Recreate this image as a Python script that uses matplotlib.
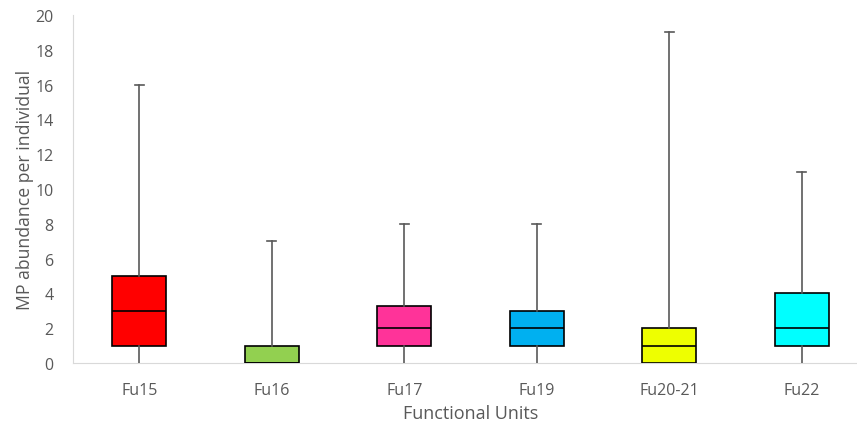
import matplotlib
matplotlib.use('Agg')
import matplotlib.pyplot as plt

# five-number summaries
units = ['Fu15', 'Fu16', 'Fu17', 'Fu19', 'Fu20-21', 'Fu22']
mins = [0, 0, 0, 0, 0, 0]
q1s = [1, 0, 1, 1, 0, 1]
medians = [3, 0, 2, 2, 1, 2]
q3s = [5, 1, 3.25, 3, 2, 4]
maxs = [16, 7, 8, 8, 19, 11]
colors = ['#FF0000', '#92D050', '#FF3399', '#00B0F0', '#EEFF00', '#00FFFF']

plt.rcParams['font.family'] = ['Open Sans', 'DejaVu Sans']

fig = plt.figure(figsize=(8.57, 4.27), dpi=100)
ax = fig.add_axes([73 / 857, 63 / 427, 795 / 857, 348 / 427])

stats = []
for i in range(len(units)):
    stats.append({'label': units[i], 'whislo': mins[i], 'q1': q1s[i],
                  'med': medians[i], 'q3': q3s[i], 'whishi': maxs[i],
                  'fliers': []})

bp = ax.bxp(stats, positions=range(len(units)), widths=0.41,
            patch_artist=True, showfliers=False, capwidths=0.065,
            boxprops=dict(edgecolor='black', linewidth=1.2),
            medianprops=dict(color='black', linewidth=1.2),
            whiskerprops=dict(color='#595959', linewidth=1.2),
            capprops=dict(color='#595959', linewidth=1.2))
for patch, c in zip(bp['boxes'], colors):
    patch.set_facecolor(c)
# only the upper caps are shown
for j, cap in enumerate(bp['caps']):
    if j % 2 == 0:
        cap.set_visible(False)

ax.set_xlim(-0.5, 5.5)
ax.set_ylim(0, 20)
ax.set_yticks(range(0, 21, 2))
ax.tick_params(axis='both', length=0, labelsize=11.5, colors='#595959')
ax.tick_params(axis='y', pad=14)
ax.tick_params(axis='x', pad=14)
for s in ['top', 'right']:
    ax.spines[s].set_visible(False)
ax.spines['left'].set_color('#D9D9D9')
ax.spines['bottom'].set_color('#D9D9D9')
ax.spines['bottom'].set_zorder(0)

ax.set_ylabel('MP abundance per individual', fontsize=12.7,
              color='#595959', labelpad=1)
ax.set_xlabel('Functional Units', fontsize=13, color='#595959',
              labelpad=4)

fig.savefig('out.png', dpi=100)
